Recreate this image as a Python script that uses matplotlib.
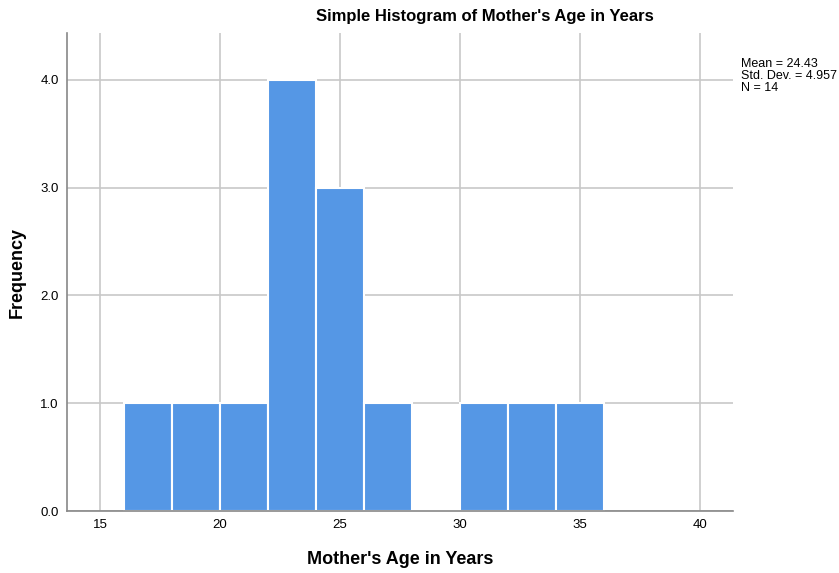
import numpy as np
import matplotlib
matplotlib.use('Agg')
import matplotlib.pyplot as plt

# bins of 2 years, counts
bin_left = [16, 18, 20, 22, 24, 26, 28, 30, 32, 34]
counts = [1, 1, 1, 4, 3, 1, 0, 1, 1, 1]
bin_width = 2
xticks = [15, 20, 25, 30, 35, 40]
yticks = [0.0, 1.0, 2.0, 3.0, 4.0]
stats_text = "Mean = 24.43\nStd. Dev. = 4.957\nN = 14"

plt.rcParams['font.family'] = ['Liberation Sans', 'DejaVu Sans']

fig = plt.figure(figsize=(8.39, 5.73), dpi=100)
ax = fig.add_axes([67/839, 62/573, 666/839, 478/573])

ax.bar(bin_left, counts, width=bin_width, align='edge', color='#5597E5',
       edgecolor='white', linewidth=1.5, zorder=3)

ax.set_xlim(13.625, 41.375)
ax.set_ylim(0, 4.436)
ax.set_xticks(xticks)
ax.set_yticks(yticks)
ax.set_yticklabels(['%.1f' % v for v in yticks])
ax.grid(True, color='#c8c8c8', linewidth=1.2, zorder=0)
ax.tick_params(length=0, labelsize=9.5, colors='black', pad=6)

for s in ['top', 'right']:
    ax.spines[s].set_visible(False)
for s in ['left', 'bottom']:
    ax.spines[s].set_color('#888888')
    ax.spines[s].set_linewidth(1.2)
    ax.spines[s].set_zorder(4)

ax.set_xlabel("Mother's Age in Years", fontsize=13, fontweight='bold', labelpad=14)
fig.text(17/839, 1 - 272/573, "Frequency", rotation=90, ha='center', va='center',
         fontsize=13, fontweight='bold')
fig.text(485/839, 1 - 17/573, "Simple Histogram of Mother's Age in Years",
         ha='center', va='center', fontsize=12, fontweight='bold')
fig.text(741/839, 1 - 58/573, stats_text, ha='left', va='top', fontsize=9,
         linespacing=1.0)

fig.savefig('out.png', dpi=100)
